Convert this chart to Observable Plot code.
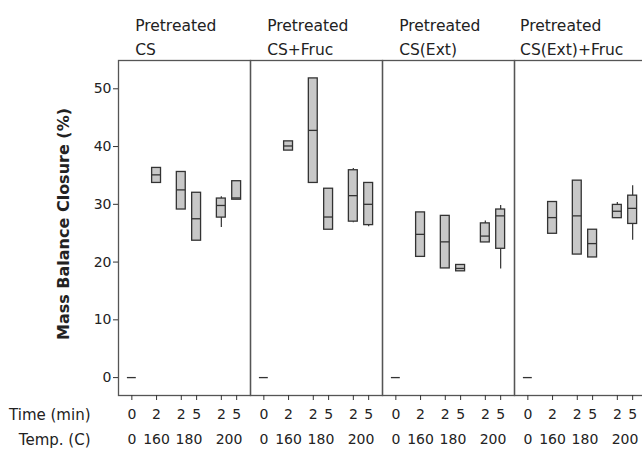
<!DOCTYPE html>
<html><head><meta charset="utf-8">
<script src="https://cdn.jsdelivr.net/npm/d3@7"></script>
<script src="https://cdn.jsdelivr.net/npm/@observablehq/plot@0.6"></script>
<style>html,body{margin:0;padding:0;overflow:hidden;background:#fff} svg{max-width:none !important}</style>
</head><body><div id="chart"></div>
<script>
// Panels (facets)
const panels = ["Pretreated\nCS", "Pretreated\nCS+Fruc", "Pretreated\nCS(Ext)", "Pretreated\nCS(Ext)+Fruc"];
// Categories within each panel
const timeLabels = ["0", "2", "2", "5", "2", "5"];
const tempLabels = ["0", "160", "180", "180", "200", "200"];
// Box statistics per category: [lower whisker, Q1, median, Q3, upper whisker]
const statsCS = [
  [0, 0, 0, 0, 0],
  [33.7, 33.7, 35.1, 36.3, 36.3],
  [29.1, 29.1, 32.5, 35.6, 35.6],
  [23.7, 23.7, 27.5, 32.0, 32.0],
  [26.0, 27.7, 29.8, 31.0, 31.3],
  [30.8, 30.8, 31.1, 34.0, 34.0]
];
const statsCSFruc = [
  [0, 0, 0, 0, 0],
  [39.3, 39.3, 40.1, 40.9, 40.9],
  [33.7, 33.7, 42.8, 51.8, 51.8],
  [25.6, 25.6, 27.8, 32.7, 32.7],
  [26.8, 27.0, 31.5, 35.9, 36.2],
  [26.1, 26.4, 30.0, 33.7, 33.7]
];
const statsCSExt = [
  [0, 0, 0, 0, 0],
  [20.9, 20.9, 24.8, 28.6, 28.6],
  [18.9, 18.9, 23.5, 28.0, 28.0],
  [18.4, 18.4, 18.9, 19.5, 19.5],
  [23.4, 23.4, 24.5, 26.7, 27.1],
  [18.8, 22.3, 28.0, 29.1, 29.8]
];
const statsCSExtFruc = [
  [0, 0, 0, 0, 0],
  [24.9, 24.9, 27.7, 30.4, 30.4],
  [21.3, 21.3, 28.0, 34.1, 34.1],
  [20.8, 20.8, 23.2, 25.6, 25.6],
  [27.6, 27.6, 28.8, 29.9, 30.3],
  [23.8, 26.6, 29.3, 31.5, 33.2]
];
const yTicks = [0, 10, 20, 30, 40, 50];
const yLabel = "Mass Balance Closure (%)";
const rowLabels = ["Time (min)", "Temp. (C)"];

// ---- layout ----
const FONT = "DejaVu Sans";
const SUB = 0.62; // spacing within a temperature group relative to between groups
const pos = [];
tempLabels.forEach((t, i) => pos.push(i === 0 ? 0 : pos[i - 1] + (t === tempLabels[i - 1] ? SUB : 1)));
const groups = d3.groups(tempLabels.map((t, i) => ({t, p: pos[i]})), d => d.t)
  .map(([t, v]) => ({t, p: d3.mean(v, d => d.p)}));

const allStats = [statsCS, statsCSFruc, statsCSExt, statsCSExtFruc];
const rows = allStats.flatMap((s, pi) => s.map(([lo, q1, med, q3, hi], i) =>
  ({panel: panels[pi], x: pos[i], lo, q1, med, q3, hi})));
const BW = 0.18;

const LABEL_SIZE = 15.5;
const ctx = document.createElement("canvas").getContext("2d");
ctx.font = `${LABEL_SIZE}px "${FONT}"`;
const blockW = s => d3.max(s.split("\n"), l => ctx.measureText(l).width);

const PANEL_W = 132.5, ML = 117;
const ink = "#222";
const chart = Plot.plot({
  width: ML + PANEL_W * panels.length,
  height: 449,
  marginLeft: ML, marginRight: 0, marginTop: 60, marginBottom: 54,
  style: {fontFamily: FONT, fontSize: "14px", color: ink, background: "#fff", maxWidth: "none"},
  fx: {domain: panels, padding: 0, axis: null, label: null},
  x: {domain: [pos[0] - 0.54, pos[pos.length - 1] + 0.56]},
  y: {domain: [-3.1, 54.9]},
  marks: [
    Plot.frame({stroke: "#555", strokeWidth: 1.3}),
    Plot.axisY({ticks: yTicks, tickSize: 5, tickPadding: 2, label: null, stroke: "#333"}),
    Plot.axisX({ticks: pos, tickFormat: d => timeLabels[pos.indexOf(d)], tickSize: 5, tickPadding: 9, label: null, stroke: "#333"}),
    Plot.axisX({ticks: groups.map(g => g.p), tickFormat: d => groups.find(g => g.p === d).t, tickSize: 0, tickPadding: 39, label: null}),
    Plot.ruleX(rows, {fx: "panel", x: "x", y1: "lo", y2: "q1", stroke: "#333", strokeWidth: 1.2}),
    Plot.ruleX(rows, {fx: "panel", x: "x", y1: "q3", y2: "hi", stroke: "#333", strokeWidth: 1.2}),
    Plot.rect(rows.filter(d => d.q3 > d.q1), {fx: "panel", x1: d => d.x - BW, x2: d => d.x + BW, y1: "q1", y2: "q3", fill: "#c8c8c8", stroke: "#333", strokeWidth: 1.3}),
    Plot.ruleY(rows, {fx: "panel", x1: d => d.x - BW, x2: d => d.x + BW, y: "med", stroke: "#333", strokeWidth: 1.3}),
    ...panels.map(p => Plot.text([p], {fx: d => d, text: d => d, frameAnchor: "top-left", textAnchor: "start", lineAnchor: "top", lineHeight: 1.55, fontSize: LABEL_SIZE, fill: ink, dx: PANEL_W / 2 - 9 - blockW(p) / 2, dy: -47})),
    Plot.text([panels[0]], {fx: d => d, text: () => rowLabels[0], frameAnchor: "bottom-left", textAnchor: "end", lineAnchor: "middle", dx: -28, dy: 19.5, fontSize: 15, fill: ink}),
    Plot.text([panels[0]], {fx: d => d, text: () => rowLabels[1], frameAnchor: "bottom-left", textAnchor: "end", lineAnchor: "middle", dx: -28, dy: 45, fontSize: 15, fill: ink}),
    Plot.text([panels[0]], {fx: d => d, text: () => yLabel, frameAnchor: "left", textAnchor: "middle", rotate: -90, dx: -55, dy: -4, fontSize: 16, fontWeight: "bold", fill: ink})
  ]
});
document.getElementById("chart").append(chart);
</script></body></html>
